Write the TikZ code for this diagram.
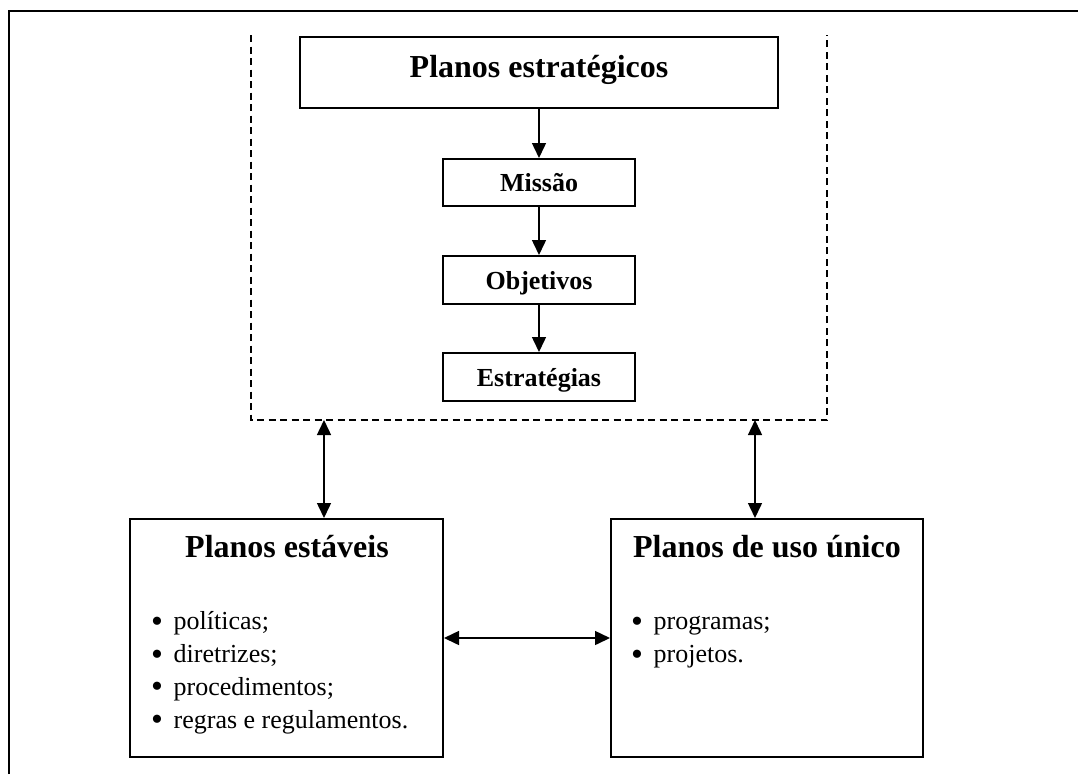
\documentclass[tikz,border=0pt]{standalone}
\usepackage{fontspec}
\setmainfont{Liberation Serif}
\usetikzlibrary{arrows.meta,positioning}
\tikzset{plan/.style={draw, line width=2pt, inner sep=0pt, text depth=0pt,
         font=\fontsize{26}{30}\bfseries, minimum width=192pt, minimum height=48pt},
         seta/.style={-{Triangle[length=15pt,width=14pt]}, line width=1.5pt},
         dseta/.style={{Triangle[length=15pt,width=14pt]}-{Triangle[length=15pt,width=14pt]}, line width=1.5pt},
         tit/.style={font=\fontsize{32}{38}\bfseries, anchor=base, inner sep=0pt},
         item/.style={font=\fontsize{26}{32}\selectfont, anchor=base west, inner sep=0pt}}
\newcommand{\bul}{\makebox[22.5pt][l]{\raisebox{-2.5pt}{\fontsize{34}{34}\selectfont\textbullet}}}

\begin{document}
\begin{tikzpicture}[x=1pt,y=-1pt]
  \useasboundingbox (0,0) rectangle (1078,774);
  \draw[line width=2pt] (9,774) -- (9,11) -- (1078,11);
  \draw[dash pattern=on 7pt off 4.5pt, line width=1.6pt] (251,35) -- (251,420) -- (827,420) -- (827,35);
  \coordinate (gl) at (324,420);
  \coordinate (gr) at (755,420);

  \node[plan, font=\fontsize{32}{38}\bfseries, minimum width=478pt, minimum height=71pt,
        text depth=13pt] (estr) at (539,72.5) {Planos estratégicos};
  \node[plan, minimum height=47pt, below=49pt of estr] (missao) {Missão};
  \node[plan, below=48pt of missao] (obj) {Objetivos};
  \node[plan, below=47pt of obj] (estrat) {Estratégias};
  \draw[seta] (estr) -- (missao);
  \draw[seta] (missao) -- (obj);
  \draw[seta] (obj) -- (estrat);

  \node[draw, line width=2pt, minimum width=313pt, minimum height=238pt] (lbox) at (286.5,638) {};
  \node[draw, line width=2pt, minimum width=312pt, minimum height=238pt] (rbox) at (767,638) {};
  \node[tit] (ltit) at (287,557.5) {Planos estáveis};
  \node[tit] (rtit) at (767,557.5) {Planos de uso único};
  \foreach \txt [count=\i] in {políticas;, diretrizes;, procedimentos;, regras e regulamentos.}
    \node[item] (lit\i) at (151,597+32.8*\i) {\bul\txt};
  \foreach \txt [count=\i] in {programas;, projetos.}
    \node[item] (rit\i) at (631,597+32.8*\i) {\bul\txt};

  \draw[dseta] (gl) -- (gl |- lbox.north);
  \draw[dseta] (gr) -- (gr |- rbox.north);
  \draw[dseta] (lbox.east) -- (rbox.west);
\end{tikzpicture}
\end{document}
